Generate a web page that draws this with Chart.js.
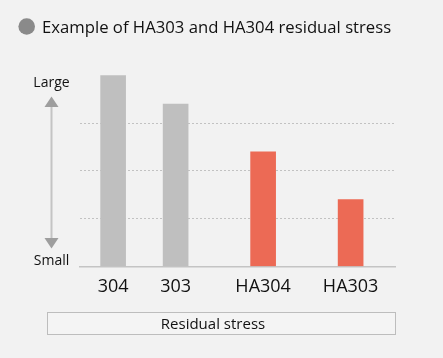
<!DOCTYPE html>
<html>
<head>
<meta charset="utf-8">
<script src="https://cdn.jsdelivr.net/npm/chart.js@4/dist/chart.umd.min.js"></script>
<style>
  html, body { margin: 0; padding: 0; background: #f2f2f2; }
  #wrap { width: 443px; height: 358px; }
</style>
</head>
<body>
<div id="wrap"><canvas id="chart" width="443" height="358"></canvas></div>
<script>
const categories = ['304', '303', 'HA304', 'HA303'];
const stressValues = [4.0, 3.4, 2.4, 1.4];
const axisLabels = ['Large', 'Small'];
const titleText = 'Example of HA303 and HA304 residual stress';
const boxText = 'Residual stress';

// bar colours: conventional grey, HA red
const barColors = ['#bfbfbf', '#bfbfbf', '#ec6a55', '#ec6a55'];
// horizontal slot of each category (HA group set a bit further apart)
const slotGap = [0, 1, 1.4, 1.4];
const slots = slotGap.map((g, i) => slotGap.slice(0, i + 1).reduce((a, b) => a + b, 0));

const FONT = "'Open Sans', sans-serif";

const decorations = {
    id: 'decorations',
    afterDraw(chart) {
        const ctx = chart.ctx;
        const area = chart.chartArea;
        ctx.save();

        // title bullet + text
        ctx.fillStyle = '#8a8a8a';
        ctx.beginPath();
        ctx.arc(26.7, 26.5, 8.3, 0, Math.PI * 2);
        ctx.fill();
        ctx.fillStyle = '#111';
        ctx.font = '16.7px ' + FONT;
        ctx.textBaseline = 'alphabetic';
        ctx.textAlign = 'left';
        ctx.fillText(titleText, 42, 32.5);

        // Large / Small arrow
        const ax = 51.5;
        ctx.strokeStyle = '#c4c4c4';
        ctx.lineWidth = 2;
        ctx.beginPath();
        ctx.moveTo(ax, 106);
        ctx.lineTo(ax, 239);
        ctx.stroke();
        ctx.fillStyle = '#9e9e9e';
        ctx.beginPath();
        ctx.moveTo(ax, 96.5);
        ctx.lineTo(ax - 7, 107);
        ctx.lineTo(ax + 7, 107);
        ctx.closePath();
        ctx.fill();
        ctx.beginPath();
        ctx.moveTo(ax, 248.5);
        ctx.lineTo(ax - 7, 238);
        ctx.lineTo(ax + 7, 238);
        ctx.closePath();
        ctx.fill();

        ctx.fillStyle = '#111';
        ctx.font = '14px ' + FONT;
        ctx.textAlign = 'center';
        ctx.fillText(axisLabels[0], ax, 86.7);
        ctx.fillText(axisLabels[1], ax, 264.5);

        // bottom caption box
        ctx.fillStyle = '#f4f4f4';
        ctx.fillRect(47.5, 312.5, area.right - 47, 22);
        ctx.strokeStyle = '#bdbdbd';
        ctx.lineWidth = 1;
        ctx.strokeRect(47.5, 312.5, area.right - 47, 22);
        ctx.fillStyle = '#111';
        ctx.font = '15px ' + FONT;
        ctx.fillText(boxText, 213, 329);

        ctx.restore();
    }
};

new Chart(document.getElementById('chart'), {
    type: 'bar',
    data: {
        datasets: [{
            data: stressValues.map((v, i) => ({ x: slots[i], y: v })),
            backgroundColor: barColors,
            barThickness: 25
        }]
    },
    options: {
        responsive: false,
        animation: false,
        layout: { padding: { left: 80, right: 48, top: 66, bottom: 58 } },
        plugins: {
            legend: { display: false },
            tooltip: { enabled: false }
        },
        scales: {
            x: {
                type: 'linear',
                offset: false,
                min: -0.53,
                max: 4.51,
                afterBuildTicks: scale => {
                    scale.ticks = slots.map(v => ({ value: v }));
                },
                grid: { display: false, offset: false },
                border: { color: '#c4c4c4', width: 1.5 },
                ticks: {
                    autoSkip: false,
                    maxRotation: 0,
                    padding: 2,
                    color: '#111',
                    font: { family: FONT, size: 18 },
                    callback: (v, i) => categories[i]
                }
            },
            y: {
                min: 0,
                max: 4.2,
                ticks: { display: false, stepSize: 1 },
                border: { display: false, dash: [2, 2] },
                grid: {
                    drawTicks: false,
                    color: ctx => (ctx.tick && ctx.tick.value >= 1 && ctx.tick.value <= 3) ? '#c2c2c2' : 'rgba(0,0,0,0)'
                }
            }
        }
    },
    plugins: [decorations]
});
</script>
</body>
</html>
